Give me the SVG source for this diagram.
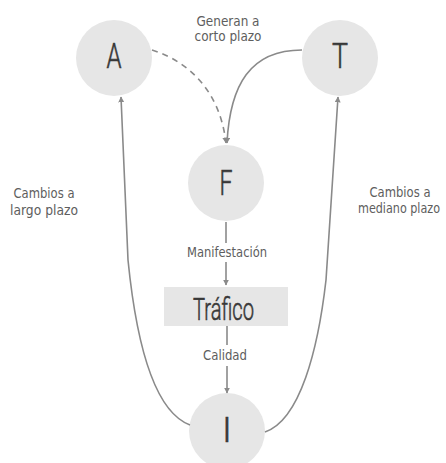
<svg xmlns="http://www.w3.org/2000/svg" width="446" height="463" viewBox="0 0 446 463">
  <style>
    text { font-family: "DejaVu Sans Condensed", "Roboto", sans-serif; text-anchor: middle; }
    .node { fill: #e6e6e6; }
    .big { font-family: "Roboto", "DejaVu Sans Condensed", sans-serif; font-weight: 300; font-size: 35px; fill: #383838; stroke: #383838; stroke-width: 0.6; }
    .lbl { font-size: 13.5px; fill: #5e5e5e; }
    .edge { fill: none; stroke: #8a8a8a; stroke-width: 1.6; }
    .dash { stroke-dasharray: 6 5; }
  </style>
  <defs>
    <marker id="arrow" viewBox="0 0 10 10" refX="9" refY="5" markerWidth="6" markerHeight="6" orient="auto" markerUnits="userSpaceOnUse">
      <path d="M0,0 L10,5 L0,10 Z" fill="#8a8a8a"/>
    </marker>
  </defs>

  <g id="A"><circle class="node" cx="114" cy="58" r="38"/><text class="big" x="114" y="68" textLength="15" lengthAdjust="spacingAndGlyphs">A</text></g>
  <g id="T"><circle class="node" cx="340" cy="58" r="38"/><text class="big" x="340" y="68" textLength="16" lengthAdjust="spacingAndGlyphs">T</text></g>
  <g id="F"><circle class="node" cx="226" cy="183" r="38"/><text class="big" x="226" y="195" textLength="13" lengthAdjust="spacingAndGlyphs">F</text></g>
  <g id="Trafico"><rect class="node" x="164" y="287" width="124" height="39"/><text class="big" x="223.5" y="320" textLength="61" lengthAdjust="spacingAndGlyphs" style="font-size:32px">Tráfico</text></g>
  <g id="I"><circle class="node" cx="227" cy="431" r="38"/><text class="big" x="227" y="442">I</text></g>

  <g id="connectors">
    <path class="edge dash" d="M152,50 C190,62 220,92 226,143" marker-end="url(#arrow)"/>
    <path class="edge" d="M302,50 C250,50 230,85 227,143" marker-end="url(#arrow)"/>
    <path class="edge" d="M226,222 L226,243"/>
    <path class="edge" d="M226,262 L226,285" marker-end="url(#arrow)"/>
    <path class="edge" d="M227,326 L227,345"/>
    <path class="edge" d="M227,366 L227,393" marker-end="url(#arrow)"/>
    <path class="edge" d="M190,425 C150,410 135,330 128,260 L121,97" marker-end="url(#arrow)"/>
    <path class="edge" d="M265,432 C300,420 318,350 326,280 L338,97" marker-end="url(#arrow)"/>
  </g>

  <g id="labels">
    <text class="lbl" x="228" y="26" textLength="63" lengthAdjust="spacingAndGlyphs">Generan a</text>
    <text class="lbl" x="228" y="41" textLength="67" lengthAdjust="spacingAndGlyphs">corto plazo</text>
    <text class="lbl" x="227" y="257" textLength="80" lengthAdjust="spacingAndGlyphs">Manifestación</text>
    <text class="lbl" x="225" y="360" textLength="44" lengthAdjust="spacingAndGlyphs">Calidad</text>
    <text class="lbl" x="44" y="198" textLength="61" lengthAdjust="spacingAndGlyphs">Cambios a</text>
    <text class="lbl" x="44" y="215" textLength="68" lengthAdjust="spacingAndGlyphs">largo plazo</text>
    <text class="lbl" x="400" y="197" textLength="61" lengthAdjust="spacingAndGlyphs">Cambios a</text>
    <text class="lbl" x="399" y="213" textLength="82" lengthAdjust="spacingAndGlyphs">mediano plazo</text>
  </g>
</svg>
